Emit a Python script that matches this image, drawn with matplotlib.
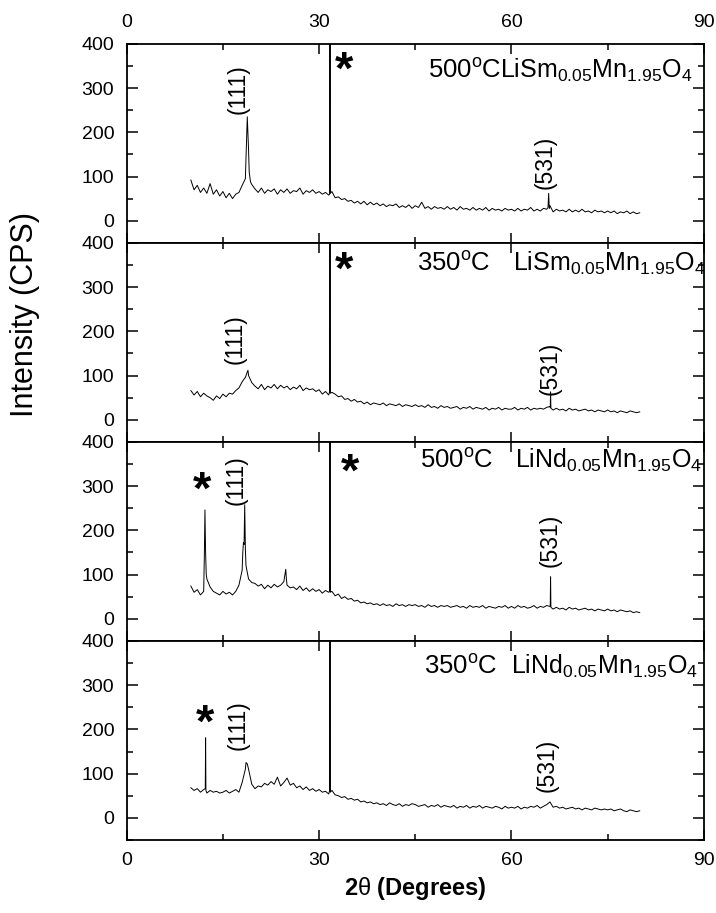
import numpy as np
import matplotlib.pyplot as plt
from matplotlib.ticker import MultipleLocator

plt.rcParams['font.family'] = ['Liberation Sans', 'DejaVu Sans']
plt.rcParams['mathtext.fontset'] = 'custom'
plt.rcParams['mathtext.rm'] = 'Liberation Sans'
plt.rcParams['mathtext.bf'] = 'Liberation Sans:bold'
plt.rcParams['mathtext.it'] = 'Liberation Sans:italic'

# 2-theta grid of the scans (degrees), 0.5 deg step
two_theta = np.arange(10.0, 80.01, 0.5)

# LiSm0.05Mn1.95O4, 500 C
sm500 = [92, 70, 80, 64, 74, 62, 84, 60, 70, 56,
         66, 52, 62, 50, 60, 64, 80, 95, 160, 82,
         72, 64, 74, 62, 70, 66, 72, 60, 70, 64,
         72, 62, 68, 66, 74, 60, 68, 64, 70, 62,
         66, 60, 64, 58, 66, 52, 54, 48, 50, 44,
         46, 40, 44, 38, 44, 36, 42, 36, 40, 34,
         38, 32, 36, 34, 38, 30, 34, 30, 36, 28,
         34, 30, 42, 28, 32, 26, 32, 28, 30, 26,
         32, 26, 30, 24, 32, 26, 28, 24, 30, 24,
         28, 24, 30, 22, 28, 24, 26, 22, 28, 24,
         26, 22, 28, 22, 26, 24, 30, 22, 26, 22,
         28, 26, 34, 20, 26, 22, 24, 20, 26, 20,
         24, 20, 26, 20, 22, 18, 24, 20, 22, 18,
         22, 18, 22, 16, 20, 18, 22, 16, 20, 16,
         18]
sm500_pk_x = [18.6, 18.7, 18.8, 18.9, 19.1, 19.3, 31.65, 31.7, 31.75, 65.7, 65.8, 65.9]
sm500_pk_y = [140, 190, 235, 200, 110, 88, 60, 900, 62, 30, 62, 28]

# LiSm0.05Mn1.95O4, 350 C
sm350 = [66, 56, 64, 52, 60, 54, 50, 44, 54, 48,
         58, 52, 60, 58, 66, 72, 86, 96, 100, 84,
         76, 70, 80, 68, 76, 72, 80, 70, 78, 72,
         76, 68, 74, 70, 78, 66, 72, 68, 70, 64,
         68, 58, 64, 56, 62, 58, 52, 54, 46, 48,
         42, 46, 40, 42, 36, 40, 34, 38, 36, 34,
         38, 32, 36, 34, 32, 36, 30, 34, 32, 30,
         34, 30, 32, 28, 34, 28, 30, 26, 32, 28,
         30, 26, 28, 30, 24, 28, 26, 30, 24, 28,
         26, 24, 28, 22, 26, 24, 28, 22, 26, 24,
         24, 28, 22, 26, 24, 28, 22, 26, 24, 26,
         24, 28, 30, 22, 26, 22, 24, 20, 26, 22,
         24, 20, 22, 24, 20, 22, 18, 22, 20, 18,
         22, 18, 20, 16, 20, 18, 16, 20, 18, 16,
         18]
sm350_pk_x = [18.7, 18.9, 31.65, 31.7, 31.75, 66.05, 66.1, 66.15]
sm350_pk_y = [104, 112, 64, 900, 60, 28, 63, 26]

# LiNd0.05Mn1.95O4, 500 C
nd500 = [74, 60, 66, 54, 62, 90, 72, 62, 58, 54,
         62, 56, 60, 54, 62, 76, 110, 160, 90, 82,
         80, 74, 78, 68, 76, 70, 78, 72, 76, 84,
         76, 70, 72, 66, 74, 64, 70, 62, 68, 62,
         66, 58, 64, 60, 62, 52, 56, 46, 50, 44,
         46, 40, 42, 36, 38, 34, 36, 32, 34, 30,
         34, 30, 32, 28, 34, 30, 32, 28, 32, 30,
         32, 28, 30, 26, 32, 28, 30, 26, 30, 28,
         30, 26, 28, 30, 26, 28, 24, 30, 26, 28,
         26, 30, 24, 28, 26, 24, 28, 26, 30, 24,
         28, 24, 30, 26, 28, 24, 26, 30, 24, 28,
         26, 30, 28, 22, 26, 22, 24, 20, 26, 22,
         24, 20, 22, 24, 20, 22, 18, 22, 20, 18,
         22, 18, 20, 16, 20, 18, 16, 18, 14, 16,
         14]
nd500_pk_x = [12.1, 12.2, 12.3, 12.4, 18.1, 18.2, 18.3, 18.4, 18.6,
              24.8, 24.9, 31.65, 31.7, 31.75, 66.05, 66.1, 66.15]
nd500_pk_y = [140, 246, 150, 100, 150, 172, 168, 258, 120,
              112, 90, 62, 900, 60, 30, 95, 26]

# LiNd0.05Mn1.95O4, 350 C
nd350 = [68, 62, 66, 58, 64, 56, 62, 58, 60, 56,
         58, 62, 56, 60, 64, 58, 80, 110, 110, 76,
         66, 72, 70, 78, 74, 82, 76, 92, 72, 80,
         90, 74, 78, 68, 72, 64, 70, 62, 66, 60,
         64, 58, 60, 54, 62, 52, 50, 46, 48, 42,
         44, 40, 42, 36, 38, 34, 36, 32, 34, 30,
         32, 28, 34, 30, 28, 32, 26, 30, 28, 32,
         30, 26, 28, 30, 24, 28, 26, 30, 24, 28,
         26, 24, 28, 22, 26, 24, 28, 22, 26, 24,
         28, 22, 26, 24, 22, 26, 24, 20, 26, 22,
         24, 22, 26, 20, 24, 22, 26, 24, 28, 22,
         26, 30, 36, 24, 26, 22, 24, 20, 22, 24,
         20, 22, 18, 22, 20, 18, 22, 20, 18, 20,
         18, 20, 16, 18, 20, 16, 14, 18, 16, 14,
         16]
nd350_pk_x = [12.25, 12.3, 12.35, 18.3, 18.6, 18.8, 31.65, 31.7, 31.75]
nd350_pk_y = [66, 181, 62, 98, 125, 122, 62, 900, 58]

temps = ['500', '350', '500', '350']
formulas = [r'LiSm$_{\mathrm{0.05}}$Mn$_{\mathrm{1.95}}$O$_{\mathrm{4}}$',
            r'LiSm$_{\mathrm{0.05}}$Mn$_{\mathrm{1.95}}$O$_{\mathrm{4}}$',
            r'LiNd$_{\mathrm{0.05}}$Mn$_{\mathrm{1.95}}$O$_{\mathrm{4}}$',
            r'LiNd$_{\mathrm{0.05}}$Mn$_{\mathrm{1.95}}$O$_{\mathrm{4}}$']

scans = [(sm500, sm500_pk_x, sm500_pk_y),
         (sm350, sm350_pk_x, sm350_pk_y),
         (nd500, nd500_pk_x, nd500_pk_y),
         (nd350, nd350_pk_x, nd350_pk_y)]

# label positions (data coords)
temp_pos = [(47.0, 323), (45.2, 336), (45.7, 341), (46.4, 325)]
form_pos = [(58.2, 323), (60.2, 336), (60.6, 341), (59.9, 325)]
hkl111_pos = [(17.4, 298), (16.9, 182), (17.1, 313), (17.4, 210)]
hkl531_pos = [(65.2, 133), (66.1, 117), (66.1, 178), (65.6, 119)]
star_pos = [[(33.9, 336)], [(33.9, 335)], [(11.7, 287), (34.8, 328)], [(12.2, 210)]]

fig, axes = plt.subplots(4, 1, sharex=True, figsize=(7.16, 9.13), dpi=100,
                         gridspec_kw={'hspace': 0})
fig.subplots_adjust(left=0.177, right=0.983, top=0.952, bottom=0.080)

for i, ax in enumerate(axes):
    base, pk_x, pk_y = scans[i]
    x = np.concatenate([two_theta, pk_x])
    y = np.concatenate([base, pk_y])
    order = np.argsort(x)
    ax.plot(x[order], y[order], color='black', lw=0.7)

    ax.set_xlim(0, 90)
    ax.set_ylim(-50, 400)
    ax.xaxis.set_major_locator(MultipleLocator(30))
    ax.xaxis.set_minor_locator(MultipleLocator(15))
    ax.yaxis.set_minor_locator(MultipleLocator(50))
    ax.set_yticks([0, 100, 200, 300, 400])
    ax.tick_params(which='both', direction='in', top=True, right=True,
                   labelsize=14, width=1.1)
    ax.tick_params(axis='x', which='major', length=7, pad=9)
    ax.tick_params(axis='x', which='minor', length=4)
    ax.tick_params(axis='y', which='major', length=8, pad=9)
    ax.tick_params(axis='y', which='minor', length=4.5)
    for sp in ax.spines.values():
        sp.set_linewidth(1.3)

    ax.text(temp_pos[i][0], temp_pos[i][1], temps[i] + r'$^{\mathrm{o}}$C',
            fontsize=18.5, ha='left', va='baseline')
    ax.text(form_pos[i][0], form_pos[i][1], formulas[i],
            fontsize=18, ha='left', va='baseline', clip_on=True)
    ax.text(hkl111_pos[i][0], hkl111_pos[i][1], '(111)', rotation=90,
            fontsize=16.5, ha='center', va='center')
    ax.text(hkl531_pos[i][0], hkl531_pos[i][1], '(531)', rotation=90,
            fontsize=16.5, ha='center', va='center')
    for sx, sy in star_pos[i]:
        ax.text(sx, sy, '*', fontsize=34, fontweight='bold',
                ha='center', va='center')

axes[0].tick_params(axis='x', labeltop=True)

fig.text(0.035, 0.655, 'Intensity (CPS)', rotation=90, fontsize=22,
         ha='center', va='center')
fig.text(0.58, 0.027, r'$\mathbf{2}\mathrm{\theta}\ \mathbf{(Degrees)}$',
         fontsize=17, ha='center', va='center')

fig.savefig('out.png', dpi=100)
